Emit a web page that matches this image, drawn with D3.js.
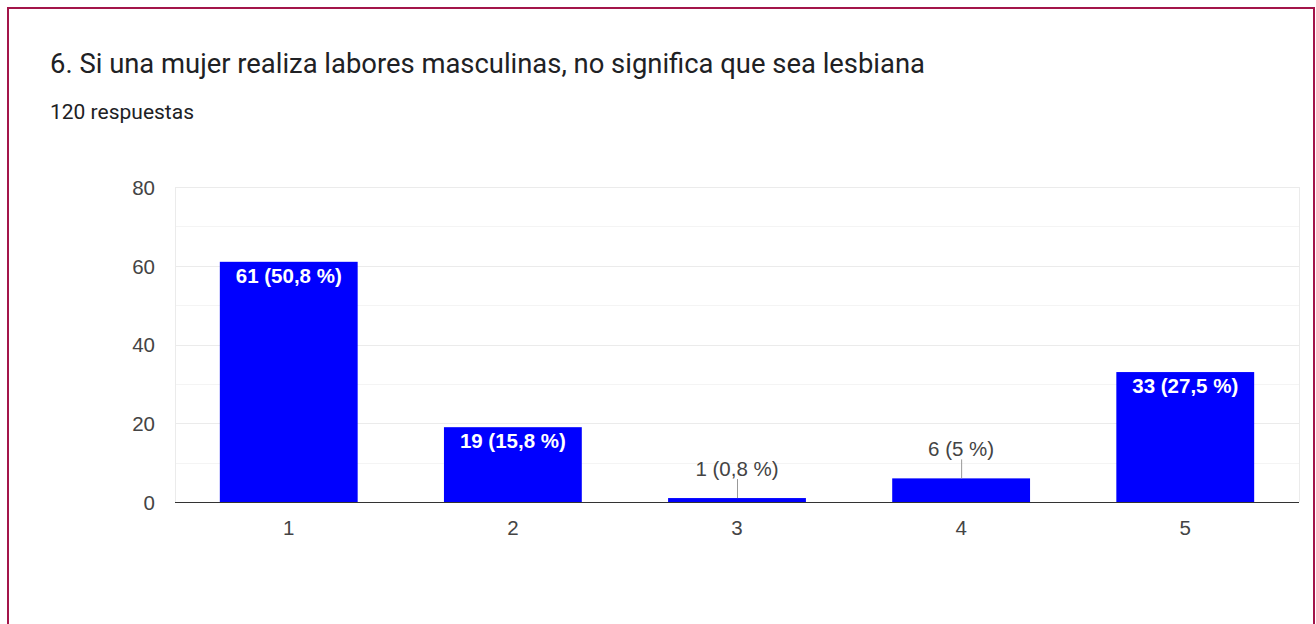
<!DOCTYPE html>
<html>
<head>
<meta charset="utf-8">
<script src="https://cdn.jsdelivr.net/npm/d3@7"></script>
<style>
  html, body { margin: 0; padding: 0; background: #fff; }
  svg { display: block; }
</style>
</head>
<body>
<svg id="chart" width="1316" height="624"></svg>
<script>
// Survey question and answer counts
const title = "6. Si una mujer realiza labores masculinas, no significa que sea lesbiana";
const subtitle = "120 respuestas";
const categories = ["1", "2", "3", "4", "5"];
const counts = [61, 19, 1, 6, 33];
const labels = ["61 (50,8 %)", "19 (15,8 %)", "1 (0,8 %)", "6 (5 %)", "33 (27,5 %)"];
const yTicks = [0, 20, 40, 60, 80];
const yMinorTicks = [10, 30, 50, 70];

const svg = d3.select("#chart");

// card frame
svg.append("rect")
  .attr("x", 8).attr("y", 8)
  .attr("width", 1306).attr("height", 640)
  .attr("fill", "#fff")
  .attr("stroke", "#a3154a")
  .attr("stroke-width", 2);

svg.append("text")
  .attr("x", 50).attr("y", 73)
  .attr("font-family", "Roboto, Arial, sans-serif")
  .attr("font-size", 27.4)
  .attr("fill", "#202124")
  .text(title);

svg.append("text")
  .attr("x", 50).attr("y", 119)
  .attr("font-family", "Roboto, Arial, sans-serif")
  .attr("font-size", 21)
  .attr("fill", "#202124")
  .text(subtitle);

const plot = { left: 175, right: 1299, top: 187, bottom: 502 };

const x = d3.scaleBand()
  .domain(categories)
  .range([plot.left, plot.right])
  .paddingInner(0.385)
  .paddingOuter(0.2);

const y = d3.scaleLinear()
  .domain([0, 80])
  .range([plot.bottom, plot.top]);

const font = "Arial, 'Liberation Sans', sans-serif";
const fs = 20.5;

// minor and major gridlines
svg.append("g").selectAll("line").data(yMinorTicks).join("line")
  .attr("x1", plot.left).attr("x2", plot.right)
  .attr("y1", d => Math.round(y(d)) + 0.5).attr("y2", d => Math.round(y(d)) + 0.5)
  .attr("stroke", "#f4f4f4");

svg.append("g").selectAll("line").data(yTicks.filter(d => d > 0)).join("line")
  .attr("x1", plot.left).attr("x2", plot.right)
  .attr("y1", d => Math.round(y(d)) + 0.5).attr("y2", d => Math.round(y(d)) + 0.5)
  .attr("stroke", "#ebebeb");

// plot side edges
[plot.left, plot.right].forEach(px => {
  svg.append("line")
    .attr("x1", px + 0.5).attr("x2", px + 0.5)
    .attr("y1", plot.top).attr("y2", plot.bottom)
    .attr("stroke", "#ebebeb");
});

// y axis labels
const yAxis = d3.axisLeft(y).tickValues(yTicks).tickSize(0).tickPadding(0);
const gy = svg.append("g").attr("transform", `translate(155,0)`).call(yAxis);
gy.select(".domain").remove();
gy.selectAll("text")
  .attr("font-family", font).attr("font-size", fs).attr("fill", "#444")
  .attr("dy", "0.36em");

// bars
svg.append("g").selectAll("rect").data(counts).join("rect")
  .attr("x", (d, i) => x(categories[i]))
  .attr("width", x.bandwidth())
  .attr("y", d => y(d))
  .attr("height", d => y(0) - y(d))
  .attr("fill", "#0000ff");

// baseline
svg.append("line")
  .attr("x1", plot.left).attr("x2", plot.right)
  .attr("y1", plot.bottom + 0.5).attr("y2", plot.bottom + 0.5)
  .attr("stroke", "#333");

// x axis labels
const xAxis = d3.axisBottom(x).tickSize(0).tickPadding(0);
const gx = svg.append("g").attr("transform", `translate(0,${plot.bottom})`).call(xAxis);
gx.select(".domain").remove();
gx.selectAll("text")
  .attr("font-family", font).attr("font-size", fs).attr("fill", "#444")
  .attr("y", 33).attr("dy", 0);

// value annotations: inside tall bars, above short bars with a leader line
const inside = d => y(0) - y(d) > 40;
const ann = svg.append("g");
counts.forEach((d, i) => {
  const cx = x(categories[i]) + x.bandwidth() / 2;
  const top = y(d);
  if (inside(d)) {
    ann.append("text")
      .attr("x", cx).attr("y", top + 21)
      .attr("text-anchor", "middle")
      .attr("font-family", font).attr("font-size", fs)
      .attr("font-weight", "bold")
      .attr("fill", "#fff")
      .text(labels[i]);
  } else {
    ann.append("line")
      .attr("x1", cx + 0.5).attr("x2", cx + 0.5)
      .attr("y1", top).attr("y2", top - 19)
      .attr("stroke", "#999");
    ann.append("text")
      .attr("x", cx).attr("y", top - 22)
      .attr("text-anchor", "middle")
      .attr("font-family", font).attr("font-size", fs)
      .attr("fill", "#444")
      .text(labels[i]);
  }
});
</script>
</body>
</html>
